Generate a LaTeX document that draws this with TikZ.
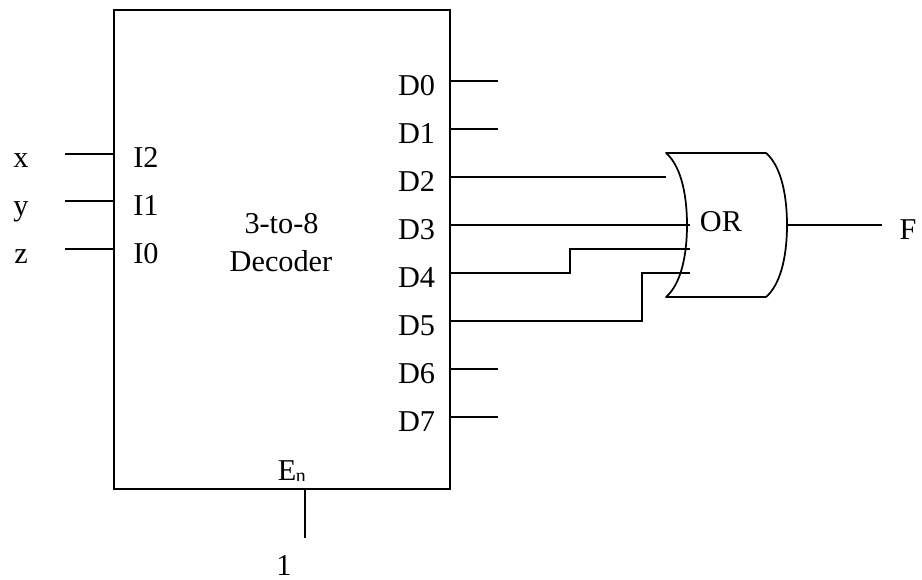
\documentclass[tikz,border=0pt]{standalone}
\usepackage{fontspec}
\setmainfont{Liberation Serif}
\tikzset{
  wire/.style={line width=1.3pt,line cap=butt},
  lbl/.style={inner sep=0pt,font=\fontsize{22.7}{24}\selectfont,anchor=base},
  sublbl/.style={inner sep=0pt,font=\fontsize{15}{16}\selectfont,anchor=base west},
}
\begin{document}
\begin{tikzpicture}[x=0.75pt,y=-0.75pt]
\useasboundingbox (0,0) rectangle (922,580);
% decoder
\coordinate (boxtl) at (114,10);
\coordinate (boxbr) at (450,489);
\draw[wire] (boxtl) rectangle (boxbr);
% labels
\node[lbl] (lx) at (21,168) {x};
\node[lbl] (ly) at (21,216) {y};
\node[lbl] (lz) at (21,264) {z};
\node[lbl] (i2) at (146,168) {I2};
\node[lbl] (i1) at (146,216) {I1};
\node[lbl] (i0) at (146,264) {I0};
\node[lbl] (dec1) at (281.5,234) {3-to-8};
\node[lbl] (dec2) at (281,272) {Decoder};
\node[lbl] (d0) at (416.5,96) {D0};
\node[lbl] (d1) at (416.5,144) {D1};
\node[lbl] (d2) at (416.5,192) {D2};
\node[lbl] (d3) at (416.5,240) {D3};
\node[lbl] (d4) at (416.5,288) {D4};
\node[lbl] (d5) at (416.5,336) {D5};
\node[lbl] (d6) at (416.5,384) {D6};
\node[lbl] (d7) at (416.5,432) {D7};
\node[lbl] (en) at (287,481) {E};
\begin{scope}
  \clip (290,465) rectangle (312,481);
  \node[sublbl] (ensub) at (295.5,483) {n};
\end{scope}
\node[lbl] (one) at (284,575.5) {1};
\node[lbl] (orl) at (721,232) {OR};
\node[lbl] (fl) at (908,240) {F};
% inputs
\foreach \yy/\nm in {154/x,201/y,249/z}{
  \coordinate (in\nm) at (65,\yy);
  \coordinate (inb\nm) at (114,\yy);
  \draw[wire] (in\nm) -- (inb\nm);
}
% stubs
\foreach \yy/\nm in {81/a,129/b,369/c,417/d}{
  \coordinate (st\nm) at (450,\yy);
  \coordinate (ste\nm) at (498,\yy);
  \draw[wire] (st\nm) -- (ste\nm);
}
% OR gate
\coordinate (gtl) at (666,153);
\coordinate (gtr) at (766,153);
\coordinate (gbl) at (666,297);
\coordinate (gbr) at (766,297);
\coordinate (gl) at (687,225);
\coordinate (gr) at (787,225);
\draw[wire,line join=round] (gbl) .. controls (680,285) and (687,258) .. (gl)
   .. controls (687,192) and (680,165) .. (gtl) -- (gtr)
   .. controls (780,165) and (787,192) .. (gr)
   .. controls (787,258) and (780,285) .. (gbr) -- cycle;
% gate wires
\coordinate (w2a) at (450,177); \coordinate (w2b) at (666,177);
\coordinate (w3a) at (450,225); \coordinate (w3b) at (690,225);
\coordinate (w4a) at (450,273); \coordinate (w4b) at (570,273);
\coordinate (w4c) at (570,249); \coordinate (w4d) at (690,249);
\coordinate (w5a) at (450,321); \coordinate (w5b) at (642,321);
\coordinate (w5c) at (642,273); \coordinate (w5d) at (690,273);
\coordinate (fa) at (882,225);
\coordinate (da) at (594,225); \coordinate (db) at (619,225);
\draw[wire] (w2a) -- (w2b);
\draw[wire] (w3a) -- (w3b);
\draw[line width=1.7pt] (da) -- (db);
\draw[wire] (w4a) -- (w4b) -- (w4c) -- (w4d);
\draw[wire] (w5a) -- (w5b) -- (w5c) -- (w5d);
\draw[wire] (gr) -- (fa);
% enable
\coordinate (ena) at (305,489);
\coordinate (enb) at (305,538);
\draw[wire] (ena) -- (enb);
\end{tikzpicture}
\end{document}
